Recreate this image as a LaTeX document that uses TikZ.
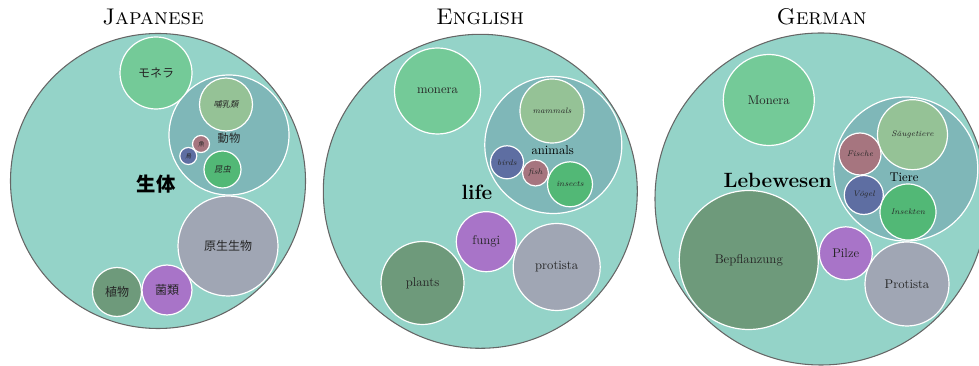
\documentclass[tikz,border=0pt]{standalone}
\usepackage{fontspec}
\newfontfamily\cjk{Noto Sans CJK JP}[AutoFakeSlant=0.2]
\begin{document}
\begin{tikzpicture}[x=0.75pt, y=-0.75pt,
  world/.style={circle, inner sep=0pt, fill=cLife, draw=black!60, line width=0.8pt},
  bubble/.style={circle, inner sep=0pt, draw=white, line width=0.9pt, text=black!85},
  langtitle/.style={anchor=base, font=\fontsize{17}{18}\selectfont\scshape},
  toplbl/.style={font=\fontsize{9.5}{11}\selectfont},
  sublbl/.style={font=\itshape\fontsize{6}{7}\selectfont},
  rootlbl/.style={font=\bfseries\fontsize{15.5}{17}\selectfont}]

\definecolor{cLife}{HTML}{94D3C8}
\definecolor{cAnimal}{HTML}{7FB7B8}
\definecolor{cMonera}{HTML}{74CA98}
\definecolor{cProtista}{HTML}{A0A6B4}
\definecolor{cPlant}{HTML}{6E9A7B}
\definecolor{cFungus}{HTML}{A874C8}
\definecolor{cMammal}{HTML}{95C296}
\definecolor{cBird}{HTML}{5E6EA2}
\definecolor{cFish}{HTML}{A6757F}
\definecolor{cInsect}{HTML}{52B876}

%% Page: 979 x 366 px, one px = 0.75pt, y runs downwards.
\clip (0,0) rectangle (979,366);

%% ---------- Japanese ----------
\node[langtitle] (jaTitle) at (153,25) {Japanese};
\node[world, minimum size=295*0.75pt] (jaLife) at (158,181) {};
\node[bubble, fill=cAnimal, minimum size=120*0.75pt] (jaAnimal) at (229,135) {};
\node[font=\cjk\fontsize{8.5}{10}\selectfont, text=black!85] (jaAnimalLbl) at (229,138) {動物};
\foreach \nm/\cx/\cy/\d/\col/\lbl in {
    jaMonera/156/73/72/cMonera/モネラ,
    jaProtista/228/246/100/cProtista/原生生物,
    jaPlant/117/292/49/cPlant/植物,
    jaFungus/167/290/50/cFungus/菌類} {
  \node[bubble, fill=\col, minimum size={\d*0.75pt},
        font=\cjk\fontsize{9}{10}\selectfont] (\nm) at (\cx,\cy) {\lbl};
}
\foreach \nm/\cx/\cy/\d/\col/\fs/\lbl in {
    jaMammal/226/104.5/53/cMammal/6.2/哺乳類,
    jaFish/201/144/17/cFish/4.5/魚,
    jaBird/188.3/156/17/cBird/4.5/鳥,
    jaInsect/222.5/169.5/37/cInsect/6.2/昆虫} {
  \node[bubble, fill=\col, minimum size={\d*0.75pt},
        font=\cjk\itshape\fontsize{\fs}{\fs}\selectfont] (\nm) at (\cx,\cy) {\lbl};
}
\node[font=\cjk\bfseries\fontsize{14.5}{16}\selectfont] (jaLifeLbl) at (156,184) {生体};

%% ---------- English ----------
\node[langtitle] (enTitle) at (480,25) {English};
\node[world, minimum size=314*0.75pt] (enLife) at (480.3,191.3) {};
\node[bubble, fill=cAnimal, minimum size=137*0.75pt] (enAnimal) at (553.3,145) {};
\node[toplbl, anchor=base] (enAnimalLbl) at (552.7,155) {animals};
\foreach \nm/\cx/\cy/\d/\col/\lbl in {
    enMonera/437.5/91/86/cMonera/monera,
    enProtista/556.7/267/87/cProtista/protista,
    enPlant/422.5/283/83/cPlant/plants,
    enFungus/486.3/241.7/60/cFungus/fungi} {
  \node[bubble, toplbl, fill=\col, minimum size={\d*0.75pt}] (\nm) at (\cx,\cy) {\lbl};
}
\foreach \nm/\cx/\cy/\d/\col/\lbl in {
    enMammal/552/111/64/cMammal/mammals,
    enBird/507/162.3/33/cBird/birds,
    enFish/535.5/173/26/cFish/fish,
    enInsect/570/184.3/45/cInsect/insects} {
  \node[bubble, sublbl, fill=\col, minimum size={\d*0.75pt}] (\nm) at (\cx,\cy) {\lbl};
}
\node[rootlbl, anchor=base] (enLifeLbl) at (477,200) {life};

%% ---------- German ----------
\node[langtitle] (deTitle) at (821.7,25) {German};
\node[world, minimum size=332*0.75pt] (deLife) at (821,199) {};
\node[bubble, fill=cAnimal, minimum size=144*0.75pt] (deAnimal) at (905.8,169) {};
\node[toplbl, anchor=base] (deAnimalLbl) at (904,181.7) {Tiere};
\foreach \nm/\cx/\cy/\d/\col/\lbl in {
    deMonera/768.8/100/91/cMonera/Monera,
    dePlant/748.8/260/139/cPlant/Bepflanzung,
    deFungus/845.8/253.3/53/cFungus/Pilze,
    deProtista/907/284/84/cProtista/Protista} {
  \node[bubble, toplbl, fill=\col, minimum size={\d*0.75pt}] (\nm) at (\cx,\cy) {\lbl};
}
\foreach \nm/\cx/\cy/\d/\col/\lbl in {
    deMammal/912.5/134.7/70/cMammal/Säugetiere,
    deFish/860/154/42/cFish/Fische,
    deBird/863.8/195/39/cBird/Vögel,
    deInsect/908/212/56/cInsect/Insekten} {
  \node[bubble, sublbl, fill=\col, minimum size={\d*0.75pt}] (\nm) at (\cx,\cy) {\lbl};
}
\node[rootlbl, anchor=base] (deLifeLbl) at (777.7,187.5) {Lebewesen};

\end{tikzpicture}
\end{document}
